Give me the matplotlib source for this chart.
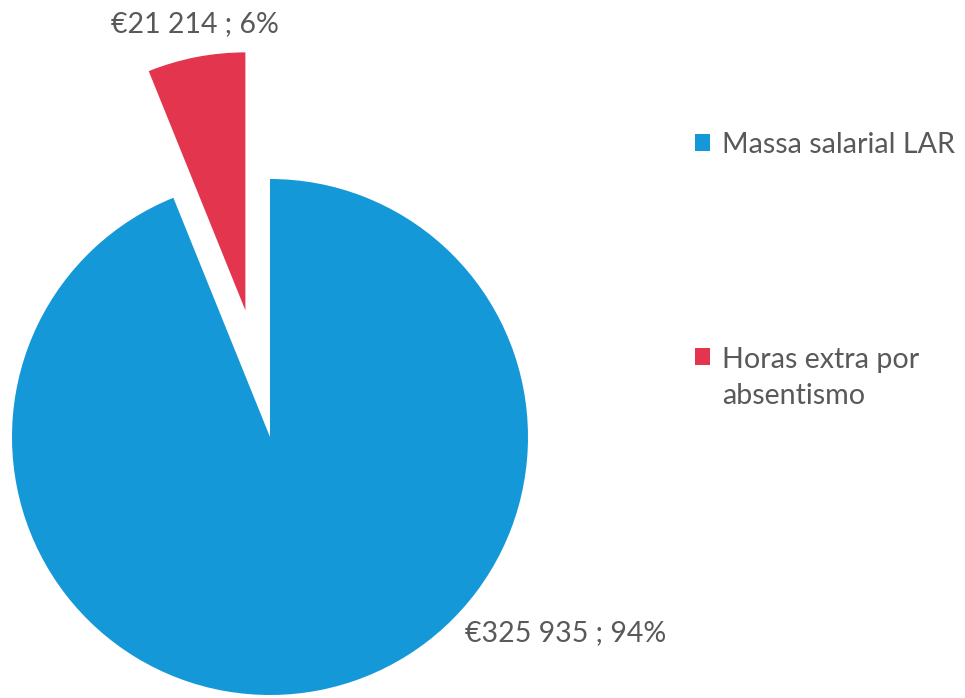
import numpy as np
import matplotlib.pyplot as plt

plt.rcParams['font.family'] = ['Lato', 'DejaVu Sans']

labels = ["Massa salarial LAR", "Horas extra por\nabsentismo"]
values = [325935, 21214]
shares = [94, 6]
colors = ["#1498d8", "#e3354e"]
explode = [0, 0.5]

fig = plt.figure(figsize=(9.65, 6.98), dpi=100)
# axes covers left 540 px; 258 px per unit, pie centre at (270, 437) px
ax = fig.add_axes([0, 0, 540 / 965, 1])

wedges, _ = ax.pie(values, colors=colors, explode=explode, startangle=90,
                   counterclock=False, radius=1.0)
ax.set_aspect('auto')
ax.set_xlim(-270 / 258, 270 / 258)
ax.set_ylim(-261 / 258, 437 / 258)
ax.axis('off')

txt_color = "#595959"
fmt = lambda v, s: "€{:,} ; {}%".format(v, s).replace(",", " ")

# labels placed near their slices
ax.text(-0.29, 1.60, fmt(values[1], shares[1]), ha='center', va='center',
        fontsize=20.5, color=txt_color)
fig.text(465 / 965, 1 - 633 / 698, fmt(values[0], shares[0]), ha='left', va='center',
         fontsize=20.5, color=txt_color)

leg = fig.legend(wedges, labels, loc='upper left', bbox_to_anchor=(669 / 965, 1 - 106 / 698),
                 frameon=False, fontsize=20.6, labelcolor=txt_color,
                 handlelength=0.55, handleheight=0.55, handletextpad=0.4,
                 labelspacing=6.6)
leg.get_texts()[1].set_linespacing(1.5)
# align the second marker with the first line of its two-line label
h = leg.legend_handles[1]
h.set_y(h.get_y() + 15.5)

fig.savefig("out.png", dpi=100)
